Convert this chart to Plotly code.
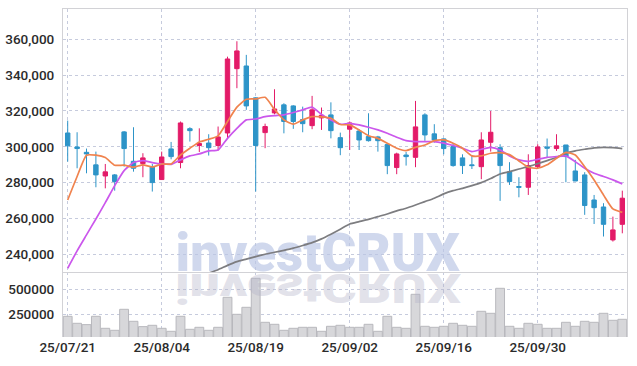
import base64
import plotly.graph_objects as go

# ---------------- data ----------------
tick_idx = [0, 10, 20, 30, 40, 50]
tick_labels = ["25/07/21", "25/08/04", "25/08/19", "25/09/02", "25/09/16", "25/09/30"]

opens = [307700, 299900, 296900, 289900, 283700, 284300, 308300, 291900, 290600, 288900,
         281700, 298800, 291200, 310100, 300700, 302100, 300700, 307700, 343600, 345100,
         327300, 307900, 318900, 323400, 322800, 315200, 311800, 316100, 317800, 305100,
         309800, 308800, 305700, 305500, 301200, 288400, 295400, 294100, 317800, 307200,
         304400, 300100, 293800, 289900, 288900, 302500, 299500, 286000, 277800, 277400,
         288900, 299900, 299000, 301000, 286500, 284300, 270300, 266400, 248000, 256700]
highs = [314600, 308100, 299000, 297300, 290400, 284800, 308800, 310900, 296400, 290400,
         297300, 302700, 314100, 310900, 310300, 307000, 311300, 350300, 358900, 351300,
         327600, 312900, 332100, 324300, 323200, 322400, 328400, 321900, 324800, 307900,
         314100, 309800, 318700, 306100, 302000, 296700, 297100, 325600, 318700, 312600,
         304700, 302000, 295800, 295100, 308100, 320000, 301400, 291400, 283000, 295800,
         301400, 304600, 307000, 301000, 292700, 285800, 273100, 268500, 261000, 275500]
lows = [291700, 288000, 285200, 277400, 276800, 275500, 288900, 286100, 283000, 275000,
        281700, 293000, 288000, 302900, 297100, 295100, 297900, 304700, 332700, 320600,
        275000, 299200, 318100, 307500, 310000, 308100, 309800, 309400, 304700, 295300,
        298200, 298200, 302900, 297300, 284700, 284700, 289500, 288600, 303300, 302300,
        295800, 288900, 284800, 287600, 281900, 297300, 269800, 278700, 271800, 273100,
        288000, 294100, 297700, 280200, 280900, 262000, 256900, 249900, 247100, 251700]
closes = [300500, 299000, 296000, 284300, 286000, 280600, 299000, 288000, 293800, 280000,
          294300, 294500, 313300, 309000, 301800, 299500, 305500, 349000, 353500, 322800,
          300700, 311300, 321100, 314100, 314100, 312900, 320600, 317600, 309000, 299500,
          313300, 303800, 303400, 303400, 289500, 296000, 294500, 311100, 306600, 303800,
          299000, 289500, 289500, 289500, 303800, 308100, 289500, 280600, 277400, 289500,
          299900, 299200, 300500, 294500, 280900, 267200, 266000, 256700, 253600, 271300]

ma_short = [270300, 283400, 295300, 295300, 294000, 289700, 289700, 288600, 289900, 288700,
            290400, 290400, 295400, 299200, 302700, 304200, 306100, 314100, 322100, 326500,
            326700, 327600, 320900, 315000, 312600, 315000, 316800, 316700, 315900, 312400,
            312200, 309400, 306200, 304700, 302000, 299200, 297900, 299700, 301000, 303400,
            303800, 302000, 299200, 294900, 294900, 296400, 296700, 295600, 292100, 288600,
            288000, 289900, 293600, 296900, 295400, 288900, 281500, 273100, 265300, 263400]
ma_mid = [232200, 241900, 250800, 259700, 268800, 278300, 286700, 291200, 292300, 291200,
          290400, 290200, 292700, 294900, 296000, 297700, 298200, 304700, 310300, 315000,
          315500, 316800, 317400, 317800, 319100, 320600, 322100, 318100, 315000, 312600,
          313100, 312200, 310900, 309400, 307500, 305300, 303400, 302900, 302900, 302900,
          302000, 300700, 299200, 297300, 298600, 299700, 298200, 294900, 292700, 291900,
          293000, 294100, 294500, 294900, 291700, 288000, 285200, 283400, 281500, 279300]
ma_long = [None] * 15 + [
          229500, 231400, 233800, 235900, 237300,
          238700, 240000, 241100, 242200, 243400, 244900, 246500, 248600, 251200, 254000,
          256900, 258200, 259500, 261000, 262500, 264200, 265700, 267500, 269400, 271300,
          273700, 275500, 276800, 278300, 280000, 282300, 284800, 286100, 287600, 288900,
          290600, 292300, 294000, 296400, 297700, 298600, 299400, 299700, 299500, 299000]

volume = [230000, 160000, 146700, 230000, 110000, 90000, 300000, 180000, 126700, 140000,
          110000, 80000, 230000, 100000, 120000, 90000, 120000, 420000, 250000, 320000,
          610000, 170000, 150000, 90000, 110000, 120000, 120000, 80000, 130000, 140000,
          120000, 120000, 150000, 80000, 230000, 120000, 110000, 450000, 130000, 120000,
          130000, 160000, 140000, 130000, 280000, 260000, 510000, 130000, 110000, 160000,
          150000, 110000, 110000, 170000, 130000, 180000, 170000, 260000, 190000, 200000]

idx = list(range(len(closes)))
watermark = "investCRUX"

# ---------------- styles ----------------
FONT = "Roboto, Liberation Sans, sans-serif"
WM_FONT = "Roboto, Inter, DejaVu Sans, sans-serif"
GRID = "#c6cbdd"
FRAME = "#d2d2d6"
RED = "#e31b68"
BLUE = "#2d94c8"

fig = go.Figure()

# watermark (below the data)
fig.add_trace(go.Scatter(
    x=[26.6], y=[238000], mode="text", text=[watermark],
    textfont=dict(family=WM_FONT, size=53, weight=900,
                  color="rgba(186,197,228,0.68)"),
    xaxis="x2", yaxis="y2", hoverinfo="skip", showlegend=False))

# volume bars
fig.add_trace(go.Bar(
    x=idx, y=volume, xaxis="x", yaxis="y",
    marker=dict(color="#d7d7da", line=dict(color="#b8b8bd", width=1)),
    hoverinfo="skip", showlegend=False))

# candles
fig.add_trace(go.Candlestick(
    x=idx, open=opens, high=highs, low=lows, close=closes,
    xaxis="x2", yaxis="y2",
    increasing=dict(line=dict(color=RED, width=1), fillcolor=RED),
    decreasing=dict(line=dict(color=BLUE, width=1), fillcolor=BLUE),
    whiskerwidth=0, showlegend=False))

# moving averages
for vals, col in ((ma_long, "#7d7d80"), (ma_mid, "#cb57ec"), (ma_short, "#f0834e")):
    fig.add_trace(go.Scatter(
        x=idx, y=vals, mode="lines", xaxis="x2", yaxis="y2",
        line=dict(color=col, width=1.7, shape="spline", smoothing=0.5),
        connectgaps=False, hoverinfo="skip", showlegend=False))

split = 65 / 328

fig.update_layout(
    width=637, height=366,
    margin=dict(l=63, r=10, t=9, b=29, autoexpand=False),
    paper_bgcolor="white", plot_bgcolor="white",
    font=dict(family=FONT, size=13.5, color="#2b2b2b", weight=500),
    bargap=0.06, boxgap=0.33,
    showlegend=False,
    xaxis=dict(domain=[0, 1], anchor="y", range=[-0.5, 59.5],
               tickmode="array", tickvals=tick_idx, ticktext=tick_labels,
               showgrid=True, gridcolor=GRID, griddash="dot", gridwidth=1,
               zeroline=False, showline=False, ticks="", ticklabelstandoff=0,
               rangeslider=dict(visible=False)),
    yaxis=dict(domain=[0, split], anchor="x", range=[23000, 673000],
               tickmode="array", tickvals=[250000, 500000], tickformat="d",
               showgrid=True, gridcolor=GRID, griddash="dot",
               zeroline=False, showline=True, mirror=True, linecolor=FRAME,
               ticks="", ticklabelstandoff=5),
    xaxis2=dict(domain=[0, 1], anchor="y2", matches="x", range=[-0.5, 59.5],
                tickmode="array", tickvals=tick_idx, showticklabels=False,
                showgrid=True, gridcolor=GRID, griddash="dot",
                zeroline=False, showline=True, mirror=True, linecolor=FRAME,
                ticks="", rangeslider=dict(visible=False)),
    yaxis2=dict(domain=[split, 1], anchor="x2", range=[230100, 376900],
                tick0=0, dtick=20000, tickformat=",d",
                showgrid=True, gridcolor=GRID, griddash="dot",
                zeroline=False, showline=True, mirror=True, linecolor=FRAME,
                ticks="", ticklabelstandoff=5),
)

# mirrored reflection of the watermark (graphic effect) in the volume panel
svg = (
    '<svg xmlns="http://www.w3.org/2000/svg" width="286" height="50" viewBox="0 0 286 50">'
    '<g transform="scale(1,-1)">'
    '<text x="0" y="0" font-family="Roboto, Inter, DejaVu Sans, sans-serif" font-weight="900" '
    'font-size="50" textLength="286" lengthAdjust="spacingAndGlyphs" '
    'fill="rgb(178,178,200)" fill-opacity="0.38">' + watermark + '</text></g></svg>'
)
src = "data:image/svg+xml;base64," + base64.b64encode(svg.encode()).decode()
fig.add_layout_image(dict(
    source=src, xref="paper", yref="paper",
    x=(175 - 63) / 564, y=(337 - 274) / 328, sizex=286 / 564, sizey=41 / 328,
    xanchor="left", yanchor="top", sizing="stretch", layer="above"))

fig.write_html("out.html")
